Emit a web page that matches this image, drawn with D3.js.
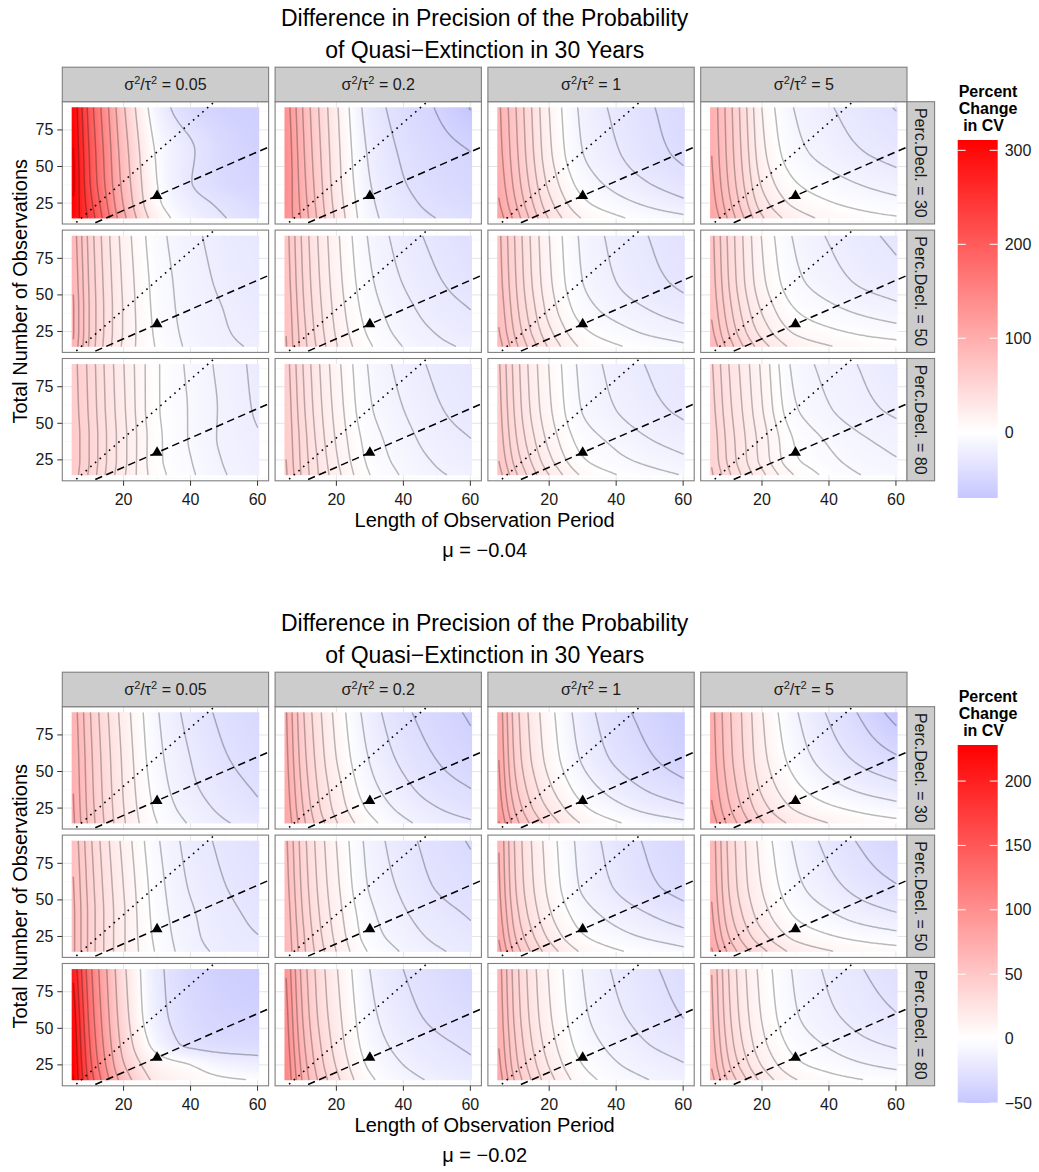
<!DOCTYPE html>
<html>
<head>
<meta charset="utf-8">
<script src="https://cdn.jsdelivr.net/npm/d3@7/dist/d3.min.js"></script>
<style>
html,body{margin:0;padding:0;background:#fff;}
text{font-family:"Liberation Sans",Arial,Helvetica,sans-serif;}
</style>
</head>
<body>
<svg id="chart" width="1039" height="1172" xmlns="http://www.w3.org/2000/svg"></svg>
<script>
// ---------------- DATA ----------------
const xNodes = [5, 10, 15, 20, 30, 40, 50, 60];   // Length of observation period
const yNodes = [90, 60, 40, 25, 15];               // Total number of observations (rows of each grid)
const ratioLabels = ["0.05", "0.2", "1", "5"];
const declLabels = ["30", "50", "80"];
const muLabels = ["\u22120.04", "\u22120.02"];
const xTicks = [20, 40, 60];
const yTicks = [25, 50, 75];
const legendTicksTop = [0, 100, 200, 300];
const legendTicksBottom = [-50, 0, 50, 100, 150, 200];
const titleLines = ["Difference in Precision of the Probability", "of Quasi\u2212Extinction in 30 Years"];
const referencePoint = [30, 30];
const referenceSlopes = { dashed: 1, dotted: 2 };

// Percent change in CV, mu = -0.04 ; each grid: rows = yNodes, cols = xNodes
const mu04_decl30 = [
  [[300,200,130,65,-15,-45,-55,-58],[308,210,140,76,-3,-28,-46,-55],[311,215,145,82,0,-30,-45,-52],[305,225,155,90,5,-22,-35,-45],[300,235,165,100,15,-15,-30,-40]],
  [[132,86,50,20,-25,-42,-53,-70],[137,90,54,23,-20,-37,-46,-52],[138,93,57,25,-17,-34,-43,-48],[136,96,60,28,-14,-30,-39,-44],[135,99,63,31,-12,-27,-35,-40]],
  [[94,66,38,13,-16,-29,-38,-45],[97,69,41,16,-13,-25,-35,-42],[101,73,46,22,-6,-18,-27,-34],[106,79,53,30,3,-8,-16,-23],[112,86,60,38,12,2,-5,-10]],
  [[95,67,39,12,-13,-23,-31,-37],[97,69,42,16,-8,-17,-24,-29],[100,72,46,22,0,-8,-14,-19],[104,77,52,30,9,1,-4,-8],[109,83,59,38,18,9,4,1]]
];
const mu04_decl50 = [
  [[85,55,33,16,-6,-17,-24,-29],[88,57,35,18,-4,-15,-22,-27],[90,58,36,19,-3,-14,-20,-25],[90,58,36,19,-2,-13,-19,-23],[88,57,35,18,-1,-12,-18,-21]],
  [[72,46,27,12,-11,-24,-32,-38],[74,48,29,14,-8,-20,-28,-34],[76,50,31,16,-5,-16,-24,-29],[77,52,33,18,-2,-13,-20,-25],[78,53,35,20,1,-10,-17,-21]],
  [[72,48,27,10,-12,-23,-30,-35],[74,50,29,12,-10,-20,-27,-32],[77,53,33,16,-5,-14,-20,-25],[80,57,38,22,2,-6,-12,-16],[84,62,44,28,8,1,-4,-8]],
  [[70,46,26,9,-11,-20,-26,-31],[72,48,28,12,-7,-15,-21,-25],[75,52,33,18,0,-7,-12,-16],[79,57,39,25,8,2,-2,-5],[84,63,46,33,16,10,6,4]]
];
const mu04_decl80 = [
  [[61,48,34,22,1,-9,-17,-24],[62,49,35,23,1,-8,-16,-23],[63,50,36,24,2,-8,-16,-21],[63,50,36,24,2,-7,-15,-20],[62,49,35,23,3,-6,-14,-19]],
  [[60,40,24,11,-9,-19,-26,-31],[62,42,26,13,-7,-16,-23,-28],[63,44,28,15,-4,-13,-20,-24],[64,45,30,17,-2,-11,-17,-21],[65,46,31,19,0,-9,-15,-18]],
  [[60,38,21,8,-11,-20,-26,-30],[62,40,23,10,-9,-17,-23,-27],[64,43,27,14,-4,-11,-17,-21],[67,47,32,19,1,-6,-11,-15],[71,52,37,25,7,0,-5,-9]],
  [[48,34,23,12,-9,-16,-21,-26],[50,36,25,14,-6,-13,-18,-22],[52,38,27,17,-1,-8,-13,-16],[53,39,28,18,1,-5,-10,-13],[55,42,31,22,6,-2,-7,-10]]
];
// Percent change in CV, mu = -0.02
const mu02_decl30 = [
  [[68,45,28,14,-8,-21,-29,-34],[70,47,30,16,-6,-18,-26,-31],[71,48,31,17,-4,-16,-23,-28],[72,49,32,18,-2,-13,-20,-25],[73,50,33,19,0,-10,-17,-21]],
  [[72,42,22,7,-15,-28,-36,-42],[74,45,25,10,-11,-23,-31,-37],[76,48,28,14,-7,-18,-26,-31],[78,51,31,17,-2,-13,-20,-25],[80,54,35,21,3,-8,-15,-19]],
  [[76,39,18,4,-17,-30,-38,-45],[79,42,21,7,-13,-25,-33,-40],[82,47,27,13,-6,-17,-25,-31],[86,54,34,21,2,-8,-15,-20],[91,61,42,29,10,1,-5,-9]],
  [[72,48,30,12,-10,-24,-36,-50],[74,50,32,15,-5,-17,-26,-33],[77,54,36,20,2,-8,-15,-20],[81,59,42,27,10,2,-3,-7],[86,65,49,35,19,11,6,3]]
];
const mu02_decl50 = [
  [[55,37,23,12,-6,-17,-23,-27],[57,39,25,14,-4,-15,-21,-25],[58,40,26,15,-3,-13,-19,-23],[58,40,26,15,-2,-12,-18,-21],[58,40,26,15,-1,-11,-16,-19]],
  [[58,36,20,8,-11,-21,-28,-33],[60,38,22,10,-9,-18,-25,-29],[62,40,24,12,-6,-15,-21,-25],[63,42,26,14,-4,-12,-18,-22],[64,43,28,16,-1,-9,-15,-19]],
  [[66,36,18,5,-13,-23,-30,-35],[68,38,20,7,-11,-20,-27,-32],[71,42,24,11,-5,-13,-19,-24],[75,47,30,17,1,-6,-11,-15],[79,53,36,24,8,1,-3,-7]],
  [[63,36,19,6,-11,-22,-30,-37],[65,38,21,9,-7,-16,-23,-28],[68,42,26,14,-1,-8,-14,-18],[72,48,33,22,7,1,-3,-6],[77,55,41,31,16,10,6,4]]
];
const mu02_decl80 = [
  [[200,120,68,27,-18,-35,-42,-45],[215,128,74,32,-16,-32,-38,-40],[222,135,80,38,-8,-27,-31,-32],[226,142,88,47,10,0,-10,-14],[228,150,97,58,18,8,2,-1]],
  [[95,55,30,13,-12,-24,-31,-36],[100,59,33,16,-9,-20,-27,-31],[103,63,37,19,-6,-16,-22,-26],[106,67,41,23,-2,-12,-18,-22],[108,70,45,27,2,-8,-14,-18]],
  [[66,39,21,8,-9,-19,-25,-30],[68,41,23,10,-7,-16,-22,-27],[70,44,26,13,-4,-12,-18,-22],[73,47,30,17,0,-8,-13,-17],[76,51,34,21,4,-4,-9,-13]],
  [[54,31,16,5,-9,-17,-23,-28],[56,33,18,7,-7,-14,-19,-23],[58,36,21,10,-3,-9,-14,-17],[61,40,26,15,2,-3,-7,-10],[65,45,32,21,8,3,0,-2]]
];

const figures = [
  { mu: muLabels[0], rows: [mu04_decl30, mu04_decl50, mu04_decl80], legendTicks: legendTicksTop },
  { mu: muLabels[1], rows: [mu02_decl30, mu02_decl50, mu02_decl80], legendTicks: legendTicksBottom }
];

// ---------------- LAYOUT ----------------
const PW = 206.3, PH = 122.3, COL0 = 62.3, COLSTEP = 212.8, ROW0 = 101.7, ROWSTEP = 128.4;
const STRIP_H = 34.5, RSTRIP_W = 27.6, FIG_STEP = 605;
const CONTOUR_BINS = 12;

const svg = d3.select("#chart");
const defs = svg.append("defs");

const xExt = [d3.min(xNodes) - 0.5, d3.max(xNodes) + 0.5];
const yExt = [d3.min(yNodes) - 0.5, d3.max(yNodes) + 0.5];
const expand = e => { const p = (e[1] - e[0]) * 0.05; return [e[0] - p, e[1] + p]; };
const xs = d3.scaleLinear().domain(expand(xExt)).range([0, PW]);
const ys = d3.scaleLinear().domain(expand(yExt)).range([PH, 0]);

function monotone(X, Y) {
  const n = X.length, h = [], d = [], m = new Array(n);
  for (let i = 0; i < n - 1; i++) { h[i] = X[i + 1] - X[i]; d[i] = (Y[i + 1] - Y[i]) / h[i]; }
  m[0] = d[0]; m[n - 1] = d[n - 2];
  for (let i = 1; i < n - 1; i++) {
    if (d[i - 1] * d[i] <= 0) m[i] = 0;
    else { const w1 = 2 * h[i] + h[i - 1], w2 = h[i] + 2 * h[i - 1]; m[i] = (w1 + w2) / (w1 / d[i - 1] + w2 / d[i]); }
  }
  return function (x) {
    if (x <= X[0]) return Y[0];
    if (x >= X[n - 1]) return Y[n - 1];
    let i = 0; while (x > X[i + 1]) i++;
    const t = (x - X[i]) / h[i], t2 = t * t, t3 = t2 * t;
    return (2 * t3 - 3 * t2 + 1) * Y[i] + (t3 - 2 * t2 + t) * h[i] * m[i] + (-2 * t3 + 3 * t2) * Y[i + 1] + (t3 - t2) * h[i] * m[i + 1];
  };
}

function sampler(grid) {
  const order = yNodes.map((y, i) => [y, i]).sort((a, b) => a[0] - b[0]);
  const yA = order.map(o => o[0]);
  const rowFns = order.map(o => monotone(xNodes, grid[o[1]]));
  return function (xList, yList) {
    const nx = xList.length, ny = yList.length, out = new Float64Array(nx * ny);
    for (let i = 0; i < nx; i++) {
      const col = rowFns.map(f => f(xList[i]));
      const fy = monotone(yA, col);
      for (let j = 0; j < ny; j++) out[j * nx + i] = fy(yList[j]);
    }
    return out;
  };
}

function makeFill(lo, hi) {
  const m = Math.max(Math.abs(lo), Math.abs(hi));
  const toRed = d3.interpolateRgb("#ffffff", "#ff0000"), toBlue = d3.interpolateRgb("#ffffff", "#0000ff");
  return v => v >= 0 ? toRed(Math.min(1, v / m)) : toBlue(Math.min(1, -v / m));
}

const clamp = (v, a, b) => Math.max(a, Math.min(b, v));
const GSTEP = 0.5;
const gX = d3.range(d3.min(xNodes), d3.max(xNodes) + 1e-9, GSTEP);
const gY = d3.range(d3.min(yNodes), d3.max(yNodes) + 1e-9, GSTEP);
const NX = gX.length, NY = gY.length;

const rx0 = xs(xExt[0]), rx1 = xs(xExt[1]), ry0 = ys(yExt[1]), ry1 = ys(yExt[0]);
const RW = Math.round(rx1 - rx0), RH = Math.round(ry1 - ry0);
const pxX = d3.range(RW).map(i => clamp(xExt[0] + (i + 0.5) / RW * (xExt[1] - xExt[0]), d3.min(xNodes), d3.max(xNodes)));
const pxY = d3.range(RH).map(j => clamp(yExt[1] - (j + 0.5) / RH * (yExt[1] - yExt[0]), d3.min(yNodes), d3.max(yNodes)));

const minorOf = (ticks, step) => { const all = [ticks[0] - step, ...ticks, ticks[ticks.length - 1] + step]; const r = []; for (let i = 0; i < all.length - 1; i++) r.push((all[i] + all[i + 1]) / 2); return r; };
const xMinor = minorOf(xTicks, 20).filter(v => v > xs.domain()[0] && v < xs.domain()[1]);
const yMinor = minorOf(yTicks, 25).filter(v => v > ys.domain()[0] && v < ys.domain()[1]);

let clipId = 0;
const TEXT = "#1a1a1a";

figures.forEach((fig, fi) => {
  const off = fi * FIG_STEP;
  const allVals = fig.rows.flat(3);
  const lo = d3.min(allVals), hi = d3.max(allVals);
  const fill = makeFill(lo, hi);
  const lut = d3.range(1025).map(k => d3.rgb(fill(lo + (hi - lo) * k / 1024)));
  const colorOf = v => lut[Math.round(clamp((v - lo) / (hi - lo), 0, 1) * 1024)];

  const fg = svg.append("g");
  const cx = COL0 + (3 * COLSTEP + PW) / 2;
  titleLines.forEach((t, k) => {
    fg.append("text").attr("x", cx).attr("y", off + 18 + k * 32).attr("text-anchor", "middle")
      .attr("dominant-baseline", "central").attr("font-size", 23).attr("fill", "#000").text(t);
  });

  fig.rows.forEach((rowGrids, r) => {
    rowGrids.forEach((grid, c) => {
      const L = COL0 + c * COLSTEP, T = off + ROW0 + r * ROWSTEP;
      const g = fg.append("g").attr("transform", `translate(${L},${T})`);
      const cid = "clip" + (clipId++);
      defs.append("clipPath").attr("id", cid).append("rect").attr("width", PW).attr("height", PH);

      g.append("rect").attr("width", PW).attr("height", PH).attr("fill", "#fff");
      const gl = g.append("g").attr("clip-path", `url(#${cid})`);
      xMinor.forEach(v => gl.append("line").attr("x1", xs(v)).attr("x2", xs(v)).attr("y1", 0).attr("y2", PH).attr("stroke", "#f5f5f5").attr("stroke-width", 0.6));
      yMinor.forEach(v => gl.append("line").attr("y1", ys(v)).attr("y2", ys(v)).attr("x1", 0).attr("x2", PW).attr("stroke", "#f5f5f5").attr("stroke-width", 0.6));
      xTicks.forEach(v => gl.append("line").attr("x1", xs(v)).attr("x2", xs(v)).attr("y1", 0).attr("y2", PH).attr("stroke", "#e5e5e5").attr("stroke-width", 1));
      yTicks.forEach(v => gl.append("line").attr("y1", ys(v)).attr("y2", ys(v)).attr("x1", 0).attr("x2", PW).attr("stroke", "#e5e5e5").attr("stroke-width", 1));

      const samp = sampler(grid);
      const pv = samp(pxX, pxY);
      const cvs = document.createElement("canvas");
      cvs.width = RW; cvs.height = RH;
      const ctx = cvs.getContext("2d");
      const img = ctx.createImageData(RW, RH);
      for (let j = 0; j < RH; j++) for (let i = 0; i < RW; i++) {
        const col = colorOf(pv[j * RW + i]); const k = (j * RW + i) * 4;
        img.data[k] = col.r; img.data[k + 1] = col.g; img.data[k + 2] = col.b; img.data[k + 3] = 255;
      }
      ctx.putImageData(img, 0, 0);
      gl.append("image").attr("href", cvs.toDataURL()).attr("x", rx0).attr("y", ry0)
        .attr("width", rx1 - rx0).attr("height", ry1 - ry0).attr("preserveAspectRatio", "none");

      const gv = samp(gX, gY);
      const [vlo, vhi] = d3.extent(gv);
      const bw = (vhi - vlo) / CONTOUR_BINS;
      const levels = d3.range(Math.floor(vlo / bw), Math.ceil(vhi / bw) + 1).map(k => k * bw).filter(v => v > vlo && v < vhi);
      const cs = d3.contours().size([NX, NY]).thresholds(levels)(Array.from(gv));
      const PX = p => xs(gX[0] + (p[0] - 0.5) * GSTEP).toFixed(2);
      const PY = p => ys(gY[0] + (p[1] - 0.5) * GSTEP).toFixed(2);
      const onB = p => p[0] <= 0 || p[0] >= NX || p[1] <= 0 || p[1] >= NY;
      cs.forEach(ct => {
        let s = "";
        ct.coordinates.forEach(poly => poly.forEach(ring => {
          let pen = false;
          const n = ring.length;
          const closed = n > 1 && ring[0][0] === ring[n - 1][0] && ring[0][1] === ring[n - 1][1];
          const segs = closed ? n - 1 : n;
          for (let k = 0; k < segs; k++) {
            const p = ring[k], q = ring[(k + 1) % n];
            if (onB(p) || onB(q)) { pen = false; continue; }
            if (!pen) { s += "M" + PX(p) + "," + PY(p); pen = true; }
            s += "L" + PX(q) + "," + PY(q);
          }
        }));
        if (s) gl.append("path").attr("d", s).attr("fill", "none").attr("stroke", "#000")
          .attr("stroke-opacity", 0.27).attr("stroke-width", 1.5).attr("stroke-linejoin", "round").attr("stroke-linecap", "round");
      });

      const xd = xs.domain();
      gl.append("path").attr("d", d3.line()([[xs(xd[0]), ys(referenceSlopes.dotted * xd[0])], [xs(xd[1]), ys(referenceSlopes.dotted * xd[1])]]))
        .attr("stroke", "#000").attr("stroke-width", 1.6).attr("stroke-dasharray", "1.6,4.6").attr("fill", "none");
      gl.append("path").attr("d", d3.line()([[xs(xd[0]), ys(referenceSlopes.dashed * xd[0])], [xs(xd[1]), ys(referenceSlopes.dashed * xd[1])]]))
        .attr("stroke", "#000").attr("stroke-width", 1.5).attr("stroke-dasharray", "7.5,4.5").attr("fill", "none");
      gl.append("path").attr("d", d3.symbol(d3.symbolTriangle, 52)())
        .attr("transform", `translate(${xs(referencePoint[0])},${ys(referencePoint[1])})`).attr("fill", "#000");

      g.append("rect").attr("width", PW).attr("height", PH).attr("fill", "none").attr("stroke", "#7f7f7f").attr("stroke-width", 1.1);

      if (r === 0) {
        g.append("rect").attr("y", -STRIP_H).attr("width", PW).attr("height", STRIP_H).attr("fill", "#cccccc").attr("stroke", "#7f7f7f").attr("stroke-width", 1.1);
        const t = g.append("text").attr("x", PW / 2).attr("y", -STRIP_H / 2 + 6).attr("text-anchor", "middle")
          .attr("font-size", 16).attr("fill", TEXT).style("white-space", "pre");
        t.append("tspan").text("\u03c3");
        t.append("tspan").attr("dy", -6).attr("font-size", 11).text("2");
        t.append("tspan").attr("dy", 6).text("/\u03c4");
        t.append("tspan").attr("dy", -6).attr("font-size", 11).text("2");
        t.append("tspan").attr("dy", 6).text(" = " + ratioLabels[c]);
      }
      if (c === 3) {
        g.append("rect").attr("x", PW).attr("width", RSTRIP_W).attr("height", PH).attr("fill", "#cccccc").attr("stroke", "#7f7f7f").attr("stroke-width", 1.1);
        g.append("text").attr("transform", `translate(${PW + RSTRIP_W / 2},${PH / 2}) rotate(90)`)
          .attr("text-anchor", "middle").attr("dominant-baseline", "central").attr("font-size", 16).attr("fill", TEXT)
          .style("white-space", "pre").text("Perc.Decl. = " + declLabels[r]);
      }
      if (c === 0) {
        yTicks.forEach(v => {
          g.append("line").attr("x1", -5).attr("x2", 0).attr("y1", ys(v)).attr("y2", ys(v)).attr("stroke", "#333").attr("stroke-width", 1);
          g.append("text").attr("x", -9).attr("y", ys(v)).attr("text-anchor", "end").attr("dominant-baseline", "central")
            .attr("font-size", 16).attr("fill", TEXT).text(v);
        });
      }
      if (r === 2) {
        xTicks.forEach(v => {
          g.append("line").attr("x1", xs(v)).attr("x2", xs(v)).attr("y1", PH).attr("y2", PH + 5).attr("stroke", "#333").attr("stroke-width", 1);
          g.append("text").attr("x", xs(v)).attr("y", PH + 19).attr("text-anchor", "middle").attr("dominant-baseline", "central")
            .attr("font-size", 16).attr("fill", TEXT).text(v);
        });
      }
    });
  });

  const yMid = off + ROW0 + (2 * ROWSTEP + PH) / 2;
  fg.append("text").attr("transform", `translate(20,${yMid}) rotate(-90)`).attr("text-anchor", "middle")
    .attr("dominant-baseline", "central").attr("font-size", 20).attr("fill", "#000").text("Total Number of Observations");
  fg.append("text").attr("x", cx).attr("y", off + 520).attr("text-anchor", "middle").attr("dominant-baseline", "central")
    .attr("font-size", 20).attr("fill", "#000").text("Length of Observation Period");
  fg.append("text").attr("x", cx).attr("y", off + 550).attr("text-anchor", "middle").attr("dominant-baseline", "central")
    .attr("font-size", 20).attr("fill", "#000").style("white-space", "pre").text("\u03bc = " + fig.mu);

  const LX = 957.7, LW = 40, LT = off + 140, LB = off + 498;
  ["Percent", "Change", "\u00a0in CV"].forEach((t, k) => {
    fg.append("text").attr("x", LX + 1).attr("y", off + 91.7 + k * 17).attr("dominant-baseline", "central")
      .attr("font-size", 16).attr("font-weight", "bold").attr("fill", "#000").text(t);
  });
  const ls = d3.scaleLinear().domain([lo, hi]).range([LB, LT]);
  const gid = "grad" + fi;
  const grad = defs.append("linearGradient").attr("id", gid).attr("x1", 0).attr("y1", 1).attr("x2", 0).attr("y2", 0);
  d3.range(61).forEach(k => {
    const v = lo + (hi - lo) * k / 60;
    grad.append("stop").attr("offset", k / 60).attr("stop-color", fill(v));
  });
  fg.append("rect").attr("x", LX).attr("y", LT).attr("width", LW).attr("height", LB - LT).attr("fill", `url(#${gid})`);
  fig.legendTicks.forEach(v => {
    const y = ls(v);
    fg.append("line").attr("x1", LX).attr("x2", LX + 8).attr("y1", y).attr("y2", y).attr("stroke", "#fff").attr("stroke-width", 1);
    fg.append("line").attr("x1", LX + LW - 8).attr("x2", LX + LW).attr("y1", y).attr("y2", y).attr("stroke", "#fff").attr("stroke-width", 1);
    fg.append("text").attr("x", LX + LW + 7).attr("y", y).attr("dominant-baseline", "central").attr("font-size", 16)
      .attr("fill", TEXT).text(v < 0 ? "\u2212" + Math.abs(v) : v);
  });
});
</script>
</body>
</html>
